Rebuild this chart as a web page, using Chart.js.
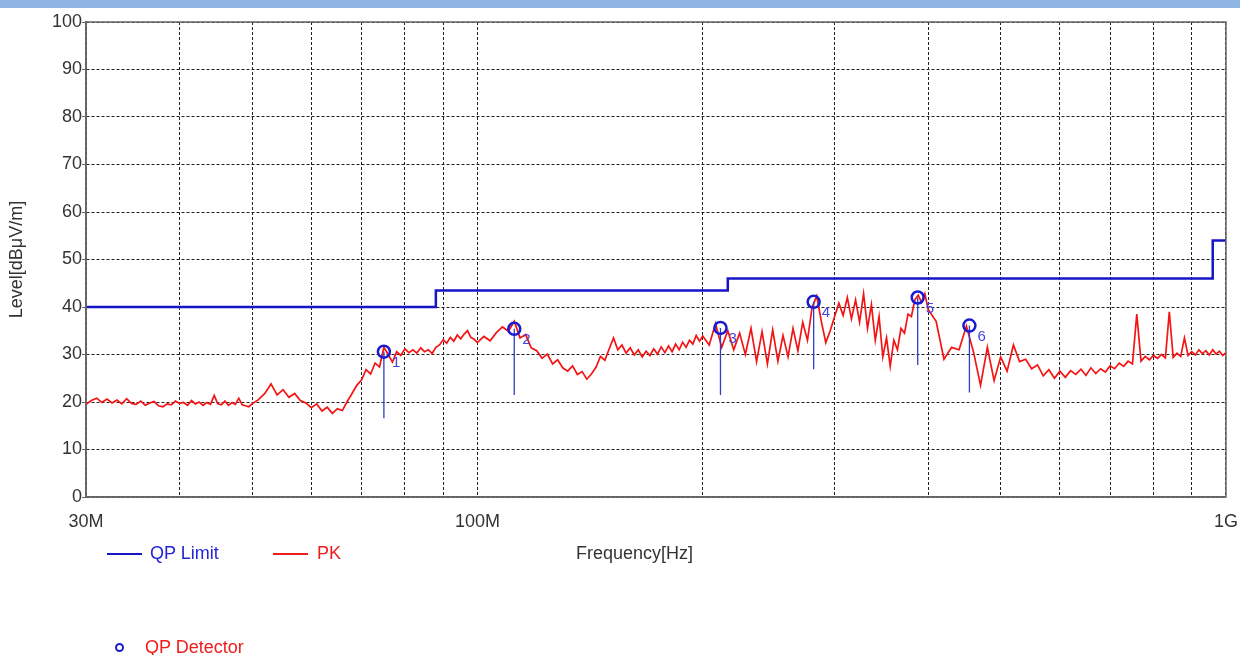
<!doctype html>
<html lang="en">
  <head>
    <meta charset="utf-8">
    <title>Radiated emission - Level vs Frequency</title>
    <style>
      body { margin: 0; background: #fff; overflow: hidden; font-family: "Liberation Sans", Arial, sans-serif; }
      #wrap { position: relative; width: 1252px; height: 655px; }
      #myChart { position: absolute; left: 0; top: 0; }
      #band { position: absolute; left: 0; top: 0; width: 1240px; height: 8px; background: #8db4e2; }
      .txt { position: absolute; font-size: 18px; line-height: 21px; white-space: nowrap; }
      .swatch { position: absolute; height: 2px; }
      .dot { position: absolute; width: 5px; height: 5px; border: 2.5px solid #1a1ad0; border-radius: 50%; }
    </style>
  </head>
  <body>
    <div id="wrap">
      <canvas id="myChart" width="1252" height="655"></canvas>
      <div id="band"></div>
      <div class="swatch" style="left:107px;top:553px;width:35px;background:#1616c8;"></div>
      <div class="txt" style="left:150px;top:543px;color:#2424d8;">QP Limit</div>
      <div class="swatch" style="left:273px;top:553px;width:35px;background:#ee1c1c;"></div>
      <div class="txt" style="left:317px;top:543px;color:#ee1c1c;">PK</div>
      <div class="txt" style="left:576px;top:543px;color:#333;">Frequency[Hz]</div>
      <div class="dot" style="left:115px;top:643px;"></div>
      <div class="txt" style="left:145px;top:637px;color:#ee1c1c;">QP Detector</div>
    </div>

    <script src="https://cdn.jsdelivr.net/npm/chart.js"></script>
    <script>
    // limit line (MHz, dBuV/m), stepped
    const limitFreq = [30, 88, 216, 960, 1000];
    const limitLevel = [40, 43.5, 46, 54, 54];

    // peak trace
    const pkFreq = [
      30, 30.5, 31, 31.5, 32, 32.5, 33, 33.5, 34, 34.5, 35, 35.5, 36, 36.5, 37, 37.5, 38, 38.5, 39, 39.5,
      40, 40.5, 41, 41.5, 42, 42.5, 43, 43.5, 44, 44.5, 45, 45.5, 46, 46.5, 47, 47.5, 48, 48.5, 49, 49.5, 50,
      51, 52, 53, 54, 55, 56, 57, 58, 59, 60, 61, 62, 63, 64, 65, 66, 67, 68, 69, 70,
      71, 72, 73, 74, 75, 76, 77, 78, 79, 80, 81, 82, 83, 84, 85, 86, 87, 88, 89, 90,
      91, 92, 93, 94, 95, 96, 97, 98, 99, 100,
      102, 104, 106, 108, 110, 112, 114, 116, 118, 120, 122, 124, 126, 128, 130, 132, 134, 136, 138, 140,
      142, 144, 146, 148, 150, 152, 154, 156, 158, 160, 162, 164, 166, 168, 170, 172, 174, 176, 178, 180,
      182, 184, 186, 188, 190, 192, 194, 196, 198, 200,
      204, 208, 212, 216, 220, 224, 228, 232, 236, 240, 244, 248, 252, 256, 260, 264, 268, 272, 276, 280,
      284, 288, 292, 296, 300, 304, 308, 312, 316, 320, 324, 328, 332, 336, 340, 344, 348, 352, 356, 360,
      364, 368, 372, 376, 380, 384, 388, 392, 396, 400,
      410, 420, 430, 440, 450, 460, 470, 480, 490, 500, 510, 520, 530, 540, 550, 560, 570, 580, 590, 600,
      610, 620, 630, 640, 650, 660, 670, 680, 690, 700, 710, 720, 730, 740, 750, 760, 770, 780, 790, 800,
      810, 820, 830, 840, 850, 860, 870, 880, 890, 900, 910, 920, 930, 940, 950, 960, 970, 980, 990, 1000
    ];
    const pkLevel = [
      19.5, 20.3, 20.8, 19.9, 20.6, 19.8, 20.4, 19.6, 20.7, 19.7, 19.5, 20.2, 19.3, 19.8, 20.1, 19.2, 19.0, 19.6, 19.4, 20.2,
      19.7, 19.9, 19.3, 20.3, 19.6, 20.0, 19.3, 19.9, 19.5, 21.4, 19.6, 19.4, 20.2, 19.3, 19.9, 19.5, 20.8, 19.4, 19.2, 19.0, 19.6,
      20.5, 21.8, 23.8, 21.5, 22.6, 21.0, 21.8, 20.3, 19.8, 18.8, 19.6, 18.1, 18.9, 17.6, 18.6, 18.2, 20.1, 21.8, 23.5, 24.6,
      26.8, 25.9, 28.2, 27.4, 31.5, 30.0, 28.4, 30.6, 29.8, 31.2, 30.4, 31.0, 30.3, 31.4, 30.6, 31.0, 30.2, 31.5, 32.0, 33.1,
      32.4, 33.6, 32.8, 34.1, 33.3, 34.3, 35.0, 33.6, 33.2, 32.5,
      33.8, 32.9, 34.6, 35.8, 34.9, 37.0, 33.5, 34.2, 31.4, 30.8, 29.2, 30.1, 28.0, 28.9, 27.2, 26.5, 27.6, 25.8, 26.4, 24.8,
      25.9, 27.3, 29.6, 28.8, 31.2, 33.5, 31.0, 32.0, 30.3, 31.4, 29.9, 31.0, 29.5, 30.7, 29.8, 31.2, 30.1, 31.6, 30.4, 31.8,
      30.6, 32.2, 31.0, 32.6, 31.5, 33.0, 32.2, 34.0, 32.8, 33.9,
      32.0, 36.5, 31.5, 35.0, 31.0, 34.5, 30.0, 35.5, 28.5, 34.8, 28.0, 35.2, 28.6, 34.0, 29.5, 35.5, 30.8, 36.8, 33.0, 40.0,
      42.3, 37.0, 32.5, 35.0, 38.0, 40.8, 38.2, 42.0, 37.5, 41.5, 36.8, 42.8, 35.5, 40.5, 33.0, 38.0, 29.5, 33.5, 27.5, 33.0,
      31.0, 35.5, 34.5, 38.5, 38.0, 41.5, 42.5, 41.0, 42.8, 39.5,
      37.0, 29.0, 31.5, 31.0, 36.0, 30.5, 23.5, 31.5, 24.5, 29.5, 26.5, 32.0, 28.5, 29.0, 27.0, 27.8, 25.5, 26.8, 25.0, 26.5,
      25.2, 26.6, 25.8, 26.9, 25.6, 27.2, 26.0, 27.0, 26.3, 27.6, 27.0, 28.2, 27.5, 28.6, 28.0, 38.5, 28.6, 29.6, 28.9, 29.8,
      29.2, 30.0, 29.3, 39.0, 29.4, 30.3, 29.6, 33.5, 29.8, 30.6, 29.9, 31.0, 30.2, 30.8, 29.9, 31.0, 30.1, 30.7, 29.8, 30.4
    ];

    // QP detector markers
    const qpFreq = [75.0, 112.0, 211.2, 281.3, 387.4, 454.2];
    const qpLevel = [30.6, 35.4, 35.6, 41.1, 42.0, 36.1];
    const qpStickLow = [16.6, 21.5, 21.5, 26.9, 27.8, 22.0];
    const qpNames = ['1', '2', '3', '4', '5', '6'];

    // axis ticks
    const xGrid = [30, 40, 50, 60, 70, 80, 90, 100, 200, 300, 400, 500, 600, 700, 800, 900, 1000];
    const xLabels = {30: '30M', 100: '100M', 1000: '1G'};

    const FONT = '"Liberation Sans", Arial, sans-serif';

    var pkData = pkFreq.map((f, i) => ({x: f, y: pkLevel[i]}));
    var limData = limitFreq.map((f, i) => ({x: f, y: limitLevel[i]}));
    var qpData = qpFreq.map((f, i) => ({x: f, y: qpLevel[i]}));
    var stickData = [];
    for (var i = 0; i < qpFreq.length; i++) {
      stickData.push({x: qpFreq[i], y: qpLevel[i]});
      stickData.push({x: qpFreq[i], y: qpStickLow[i]});
      stickData.push({x: qpFreq[i], y: null});
    }

    // frame + marker numbers
    const extras = {
      id: 'extras',
      afterDatasetsDraw(chart) {
        const c = chart.ctx, xs = chart.scales.x, ys = chart.scales.y;
        c.save();
        c.fillStyle = '#4545dc';
        c.font = '15px ' + FONT;
        c.textBaseline = 'middle';
        for (var i = 0; i < qpFreq.length; i++) {
          c.fillText(qpNames[i], xs.getPixelForValue(qpFreq[i]) + 8, ys.getPixelForValue(qpLevel[i]) + 11);
        }
        c.restore();
      },
      afterDraw(chart) {
        const a = chart.chartArea, c = chart.ctx;
        c.save();
        c.strokeStyle = '#666';
        c.lineWidth = 1.5;
        c.strokeRect(a.left, a.top, a.right - a.left, a.bottom - a.top);
        c.restore();
      }
    };

    const ctx = document.getElementById('myChart');

    var chart = new Chart(ctx, {
      type: 'line',
      data: {
        datasets: [
          { label: 'QP Detector', data: qpData, showLine: false, order: 0,
            pointRadius: 6, pointBorderWidth: 2.5, pointBorderColor: '#1a1ad0', pointBackgroundColor: 'rgba(0,0,0,0)' },
          { label: 'marks', data: stickData, order: 1, borderColor: '#2f3fc4', borderWidth: 1.3,
            pointRadius: 0, spanGaps: false },
          { label: 'QP Limit', data: limData, order: 2, stepped: true, borderColor: '#1616c8', borderWidth: 2.5,
            pointRadius: 0 },
          { label: 'PK', data: pkData, order: 3, borderColor: '#f41414', borderWidth: 1.7,
            pointRadius: 0, tension: 0 }
        ]
      },
      options: {
        animation: false,
        responsive: false,
        devicePixelRatio: 1,
        layout: { padding: { left: 0, top: 22, right: 24, bottom: 0 } },
        plugins: { legend: { display: false }, tooltip: { enabled: false } },
        scales: {
          x: {
            type: 'logarithmic',
            min: 30, max: 1000,
            afterBuildTicks: (s) => { s.ticks = xGrid.map(v => ({value: v})); },
            afterFit: (s) => { s.height = 158; },
            ticks: {
              autoSkip: false, maxRotation: 0, padding: 14, color: '#333',
              font: { family: FONT, size: 18 },
              callback: (v) => xLabels[v] || ''
            },
            grid: { color: '#222', lineWidth: 1, drawTicks: false },
            border: { display: true, color: '#666', width: 1.5, dash: [3, 2] }
          },
          y: {
            min: 0, max: 100,
            ticks: {
              stepSize: 10, padding: 0, color: '#333',
              font: { family: FONT, size: 18 }
            },
            afterFit: (s) => { s.width = 86; },
            title: {
              display: true, text: 'Level[dBμV/m]', color: '#333', padding: { top: 6, bottom: 0 },
              font: { family: FONT, size: 18 }
            },
            grid: { color: '#222', lineWidth: 1, tickLength: 4, tickColor: '#666', tickBorderDash: [] },
            border: { display: true, color: '#666', width: 1.5, dash: [3, 2] }
          }
        }
      },
      plugins: [extras]
    });
    </script>
  </body>
</html>
